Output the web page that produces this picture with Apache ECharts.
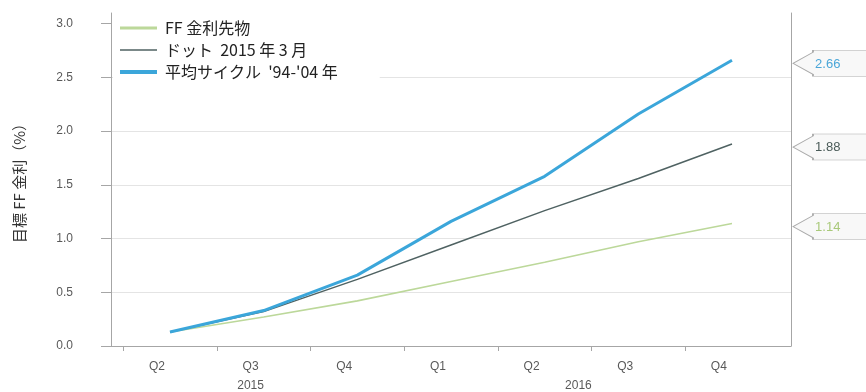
<!DOCTYPE html>
<html>
<head>
<meta charset="utf-8">
<script src="https://cdn.jsdelivr.net/npm/echarts@6/dist/echarts.min.js"></script>
<style>
    html, body { margin: 0; padding: 0; background: #fff; }
    #chart { width: 866px; height: 392px; }
</style>
</head>
<body>
<div id="chart"></div>
<script>
    // 四半期ラベル
    var categories = ['Q2', 'Q3', 'Q4', 'Q1', 'Q2', 'Q3', 'Q4'];
    var years = ['2015', '2016'];
    var yearSpans = [[0, 2], [3, 6]];   // 各年がカバーする四半期 index
    var yTicks = [0, 0.5, 1, 1.5, 2, 2.5, 3];

    var seriesNames = ['FF 金利先物', 'ドット  2015 年 3 月', "平均サイクル  '94-'04 年"];
    var futures = [0.13, 0.27, 0.42, 0.60, 0.78, 0.97, 1.14];
    var dots = [0.13, 0.32, 0.62, 0.94, 1.26, 1.56, 1.88];
    var cycle = [0.13, 0.33, 0.66, 1.16, 1.58, 2.16, 2.66];

    var colors = ['#bcd89a', '#4f6262', '#3ba6da'];
    var labelColors = ['#a9c97a', '#4a5b58', '#4aa6d8'];
    var widths = [1.6, 1.5, 3];
    var legendIcons = [
        'path://M0,0H37V3H0Z',
        'path://M0,0H37V1.5H0Z',
        'path://M0,0H37V4H0Z'
    ];

    var labelShift = -0.14; // Excel風にラベルが少し左にずれている

    var myChart = echarts.init(document.getElementById('chart'));

    function callout(values, idx) {
        var last = values[values.length - 1];
        return {
            symbol: 'path://M0,13L20,2L20,0L90,0L90,26L20,26L20,24Z',
            symbolSize: [90, 26],
            symbolKeepAspect: false,
            symbolOffset: [106, 3],
            itemStyle: { color: '#f8f8f8', borderColor: '#ababab', borderWidth: 1 },
            label: {
                show: true,
                position: [23, 14],
                align: 'left',
                verticalAlign: 'middle',
                fontSize: 13,
                fontFamily: 'Liberation Sans',
                color: labelColors[idx],
                formatter: function () { return last.toFixed(2); }
            },
            data: [{ coord: [values.length - 1, last], value: last }]
        };
    }

    function lineSeries(idx, values) {
        return {
            name: seriesNames[idx],
            type: 'line',
            data: values.map(function (v, i) { return [i, v]; }),
            symbol: 'none',
            clip: false,
            z: 2 + idx,
            lineStyle: { color: colors[idx], width: widths[idx] },
            itemStyle: { color: colors[idx] },
            markPoint: callout(values, idx)
        };
    }

    var option = {
        animation: false,
        grid: { left: 111, right: 75, top: 13, bottom: 46 },
        legend: {
            orient: 'vertical',
            left: 113,
            top: 11,
            padding: [9, 42, 14, 7],
            backgroundColor: '#ffffff',
            itemWidth: 37,
            itemHeight: 16,
            itemGap: 6,
            textStyle: {
                fontSize: 16,
                lineHeight: 16,
                color: '#222',
                fontFamily: 'Noto Sans CJK JP',
                padding: [0, 0, 0, 3]
            },
            data: seriesNames.map(function (n, i) {
                return { name: n, icon: legendIcons[i] };
            })
        },
        xAxis: [{
            type: 'value',
            min: -0.63,
            max: 6.63,
            axisLine: { show: true, onZero: false, lineStyle: { color: '#a6a6a6' } },
            axisTick: {
                show: true,
                length: 5,
                lineStyle: { color: '#a6a6a6' },
                customValues: categories.map(function (c, i) { return i - 0.5; })
            },
            splitLine: { show: false },
            axisLabel: {
                margin: 15,
                fontSize: 12,
                color: '#595959',
                fontFamily: 'Liberation Sans',
                customValues: categories.map(function (c, i) { return i + labelShift; }),
                formatter: function (v) { return categories[Math.round(v - labelShift)]; }
            }
        }, {
            type: 'value',
            position: 'bottom',
            min: -0.63,
            max: 6.63,
            axisLine: { show: false, onZero: false },
            axisTick: { show: false },
            splitLine: { show: false },
            axisLabel: {
                margin: 34,
                fontSize: 12,
                color: '#595959',
                fontFamily: 'Liberation Sans',
                customValues: yearSpans.map(function (s) { return (s[0] + s[1]) / 2 + labelShift; }),
                formatter: function (v) {
                    for (var i = 0; i < yearSpans.length; i++) {
                        if (Math.abs((yearSpans[i][0] + yearSpans[i][1]) / 2 + labelShift - v) < 0.01) return years[i];
                    }
                    return '';
                }
            }
        }],
        yAxis: [{
            type: 'value',
            min: 0,
            max: 3.1,
            name: '目標 FF 金利（%）',
            nameLocation: 'middle',
            nameRotate: 90,
            nameGap: 84,
            nameTextStyle: { fontSize: 15, color: '#333', fontFamily: 'Noto Sans CJK JP' },
            axisLine: { show: true, onZero: false, lineStyle: { color: '#a6a6a6' } },
            axisTick: {
                show: true,
                inside: false,
                length: 10,
                lineStyle: { color: '#a6a6a6' },
                customValues: yTicks
            },
            axisLabel: {
                margin: 38,
                fontSize: 12,
                color: '#595959',
                fontFamily: 'Liberation Sans',
                customValues: yTicks,
                formatter: function (v) { return v.toFixed(1); }
            },
            splitLine: { show: true, showMaxLine: false, lineStyle: { color: '#e4e4e4' } }
        }, {
            type: 'value',
            position: 'right',
            min: 0,
            max: 3.1,
            axisLine: { show: true, onZero: false, lineStyle: { color: '#a6a6a6' } },
            axisTick: { show: false },
            axisLabel: { show: false },
            splitLine: { show: false }
        }],
        series: [
            lineSeries(0, futures),
            lineSeries(1, dots),
            lineSeries(2, cycle)
        ]
    };

    myChart.setOption(option);
</script>
</body>
</html>
